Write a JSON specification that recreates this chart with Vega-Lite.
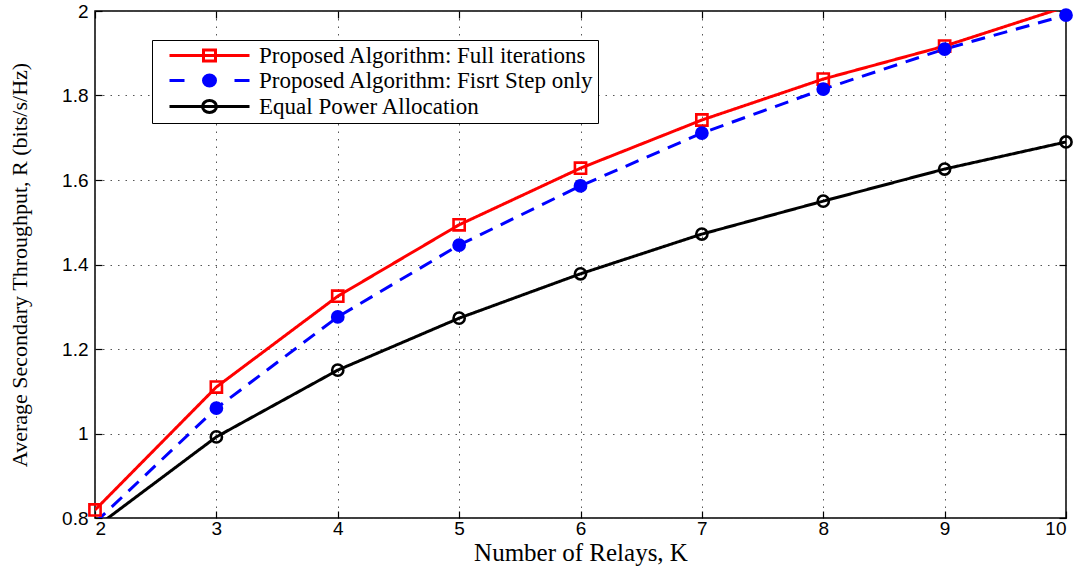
{
  "$schema": "https://vega.github.io/schema/vega-lite/v6.json",
  "width": 971,
  "height": 507,
  "autosize": {"type": "none"},
  "padding": {"left": 95, "top": 11, "right": 20, "bottom": 53},
  "background": "white",
  "config": {
    "view": {"stroke": "black", "strokeWidth": 1.5},
    "axis": {
      "labelFont": "Liberation Sans",
      "labelFontSize": 19,
      "labelColor": "black",
      "titleFont": "Liberation Serif",
      "titleFontWeight": "normal",
      "titleColor": "black",
      "domain": false,
      "tickColor": "black",
      "tickWidth": 1.2,
      "gridColor": "#444444",
      "gridDash": [1.5, 6],
      "gridWidth": 1,
      "gridOpacity": 0.9
    }
  },
  "data": {
    "values": [
      {"K": 2, "R": 0.819, "series": "Proposed Algorithm: Full iterations"},
      {"K": 3, "R": 1.110, "series": "Proposed Algorithm: Full iterations"},
      {"K": 4, "R": 1.325, "series": "Proposed Algorithm: Full iterations"},
      {"K": 5, "R": 1.494, "series": "Proposed Algorithm: Full iterations"},
      {"K": 6, "R": 1.628, "series": "Proposed Algorithm: Full iterations"},
      {"K": 7, "R": 1.742, "series": "Proposed Algorithm: Full iterations"},
      {"K": 8, "R": 1.839, "series": "Proposed Algorithm: Full iterations"},
      {"K": 9, "R": 1.917, "series": "Proposed Algorithm: Full iterations"},
      {"K": 10, "R": 2.01, "series": "Proposed Algorithm: Full iterations"},
      {"K": 2, "R": 0.789, "series": "Proposed Algorithm: Fisrt Step only"},
      {"K": 3, "R": 1.060, "series": "Proposed Algorithm: Fisrt Step only"},
      {"K": 4, "R": 1.276, "series": "Proposed Algorithm: Fisrt Step only"},
      {"K": 5, "R": 1.446, "series": "Proposed Algorithm: Fisrt Step only"},
      {"K": 6, "R": 1.586, "series": "Proposed Algorithm: Fisrt Step only"},
      {"K": 7, "R": 1.711, "series": "Proposed Algorithm: Fisrt Step only"},
      {"K": 8, "R": 1.815, "series": "Proposed Algorithm: Fisrt Step only"},
      {"K": 9, "R": 1.910, "series": "Proposed Algorithm: Fisrt Step only"},
      {"K": 10, "R": 1.990, "series": "Proposed Algorithm: Fisrt Step only"},
      {"K": 2, "R": 0.777, "series": "Equal Power Allocation"},
      {"K": 3, "R": 0.992, "series": "Equal Power Allocation"},
      {"K": 4, "R": 1.150, "series": "Equal Power Allocation"},
      {"K": 5, "R": 1.273, "series": "Equal Power Allocation"},
      {"K": 6, "R": 1.378, "series": "Equal Power Allocation"},
      {"K": 7, "R": 1.472, "series": "Equal Power Allocation"},
      {"K": 8, "R": 1.550, "series": "Equal Power Allocation"},
      {"K": 9, "R": 1.626, "series": "Equal Power Allocation"},
      {"K": 10, "R": 1.690, "series": "Equal Power Allocation"}
    ]
  },
  "resolve": {
    "axis": {"x": "independent", "y": "independent"},
    "scale": {"stroke": "independent", "fill": "independent", "shape": "independent", "strokeDash": "independent"}
  },
  "layer": [
    {
      "mark": {"type": "line", "clip": true, "strokeWidth": 3},
      "encoding": {
        "x": {
          "field": "K", "type": "quantitative",
          "scale": {"domain": [2, 10], "nice": false},
          "axis": {
            "values": [2, 3, 4, 5, 6, 7, 8, 9, 10], "format": "d",
            "tickSize": -7, "labelPadding": 8, "grid": true,
            "title": "Number of Relays, K", "titleFontSize": 25, "titlePadding": 2
          }
        },
        "y": {
          "field": "R", "type": "quantitative",
          "scale": {"domain": [0.8, 2], "nice": false, "zero": false},
          "axis": {
            "values": [0.8, 1, 1.2, 1.4, 1.6, 1.8, 2], "format": "~g",
            "tickSize": -7, "labelPadding": 14, "grid": true,
            "title": "Average Secondary Throughput, R (bits/s/Hz)", "titleFontSize": 22, "titlePadding": 30
          }
        },
        "stroke": {
          "field": "series", "type": "nominal",
          "scale": {"domain": ["Proposed Algorithm: Full iterations", "Proposed Algorithm: Fisrt Step only", "Equal Power Allocation"], "range": ["#ff0000", "#0000ff", "#000000"]},
          "legend": null
        },
        "strokeDash": {
          "field": "series", "type": "nominal",
          "scale": {"domain": ["Proposed Algorithm: Full iterations", "Proposed Algorithm: Fisrt Step only", "Equal Power Allocation"], "range": [[1, 0], [14, 9], [1, 0]]},
          "legend": null
        }
      }
    },
    {
      "transform": [{"filter": "datum.R >= 0.8 && datum.R <= 2"}],
      "mark": {"type": "point", "strokeWidth": 2.6, "size": 125, "opacity": 1},
      "encoding": {
        "x": {
          "field": "K", "type": "quantitative",
          "scale": {"domain": [2, 10], "nice": false},
          "axis": {"orient": "top", "values": [2, 3, 4, 5, 6, 7, 8, 9, 10], "labels": false, "tickSize": -7, "grid": false, "title": null}
        },
        "y": {
          "field": "R", "type": "quantitative",
          "scale": {"domain": [0.8, 2], "nice": false, "zero": false},
          "axis": {"orient": "right", "values": [0.8, 1, 1.2, 1.4, 1.6, 1.8, 2], "labels": false, "tickSize": -7, "grid": false, "title": null}
        },
        "stroke": {
          "field": "series", "type": "nominal",
          "scale": {"domain": ["Proposed Algorithm: Full iterations", "Proposed Algorithm: Fisrt Step only", "Equal Power Allocation"], "range": ["#ff0000", "#0000ff", "#000000"]},
          "legend": null
        },
        "fill": {
          "field": "series", "type": "nominal",
          "scale": {"domain": ["Proposed Algorithm: Full iterations", "Proposed Algorithm: Fisrt Step only", "Equal Power Allocation"], "range": ["transparent", "#0000ff", "transparent"]},
          "legend": null
        },
        "shape": {
          "field": "series", "type": "nominal",
          "scale": {"domain": ["Proposed Algorithm: Full iterations", "Proposed Algorithm: Fisrt Step only", "Equal Power Allocation"], "range": ["square", "circle", "circle"]},
          "legend": null
        }
      }
    },
    {
      "mark": {"type": "point", "opacity": 0, "strokeWidth": 3},
      "encoding": {
        "x": {"field": "K", "type": "quantitative", "scale": {"domain": [2, 10], "nice": false}, "axis": null},
        "y": {"field": "R", "type": "quantitative", "scale": {"domain": [0.8, 2], "nice": false, "zero": false}, "axis": null},
        "stroke": {
          "field": "series", "type": "nominal",
          "scale": {"domain": ["Proposed Algorithm: Full iterations", "Proposed Algorithm: Fisrt Step only", "Equal Power Allocation"], "range": ["#ff0000", "#0000ff", "#000000"]},
          "legend": {"orient": "none", "legendX": 57, "legendY": 29, "title": null, "symbolOpacity": 1, "symbolStrokeWidth": 3, "symbolSize": 400, "labelFont": "Liberation Serif", "labelFontSize": 23, "labelColor": "black", "labelLimit": 0, "strokeColor": "black", "fillColor": "white", "padding": 4, "labelOffset": 80, "rowPadding": 1}
        },
        "fill": {
          "field": "series", "type": "nominal",
          "scale": {"domain": ["Proposed Algorithm: Full iterations", "Proposed Algorithm: Fisrt Step only", "Equal Power Allocation"], "range": ["white", "#0000ff", "white"]},
          "legend": {"orient": "none", "legendX": 57, "legendY": 29, "title": null, "symbolOpacity": 1, "symbolStrokeWidth": 3, "symbolSize": 400, "labelFont": "Liberation Serif", "labelFontSize": 23, "labelColor": "black", "labelLimit": 0, "strokeColor": "black", "fillColor": "white", "padding": 4, "labelOffset": 80, "rowPadding": 1}
        },
        "shape": {
          "field": "series", "type": "nominal",
          "scale": {"domain": ["Proposed Algorithm: Full iterations", "Proposed Algorithm: Fisrt Step only", "Equal Power Allocation"], "range": [
            "M0.2,0H8.2M3.6,-0.55H4.8V0.55H3.6Z",
            "M0.2,0H1.7M6.7,0H8.2M3.6,0A0.6,0.55 0 1,0 4.8,0A0.6,0.55 0 1,0 3.6,0Z",
            "M0.2,0H8.2M3.5,0A0.7,0.6 0 1,0 4.9,0A0.7,0.6 0 1,0 3.5,0Z"
          ]},
          "legend": {"orient": "none", "legendX": 57, "legendY": 29, "title": null, "symbolOpacity": 1, "symbolStrokeWidth": 3, "symbolSize": 400, "labelFont": "Liberation Serif", "labelFontSize": 23, "labelColor": "black", "labelLimit": 0, "strokeColor": "black", "fillColor": "white", "padding": 4, "labelOffset": 80, "rowPadding": 1}
        }
      }
    }
  ]
}
